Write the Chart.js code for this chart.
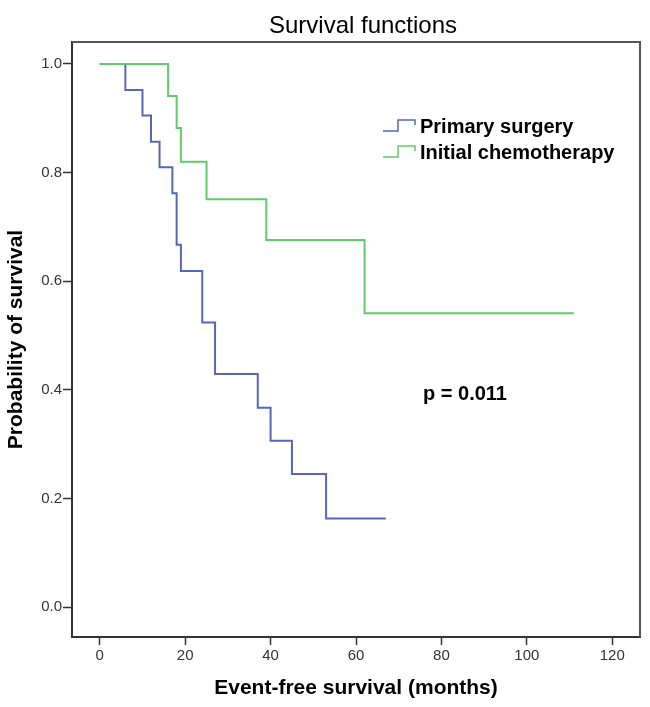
<!DOCTYPE html>
<html>
<head>
<meta charset="utf-8">
<title>Survival functions</title>
<script src="https://cdn.jsdelivr.net/npm/chart.js@4.4.1/dist/chart.umd.min.js"></script>
<style>
  html, body { margin: 0; padding: 0; background: #fff; }
  #wrap { width: 650px; height: 707px; }
</style>
</head>
<body>
<div id="wrap"><canvas id="kmChart" width="650" height="707"></canvas></div>
<script>
// Kaplan-Meier steps (months, survival)
var surgeryMonths = [0, 6, 10, 12, 14, 17, 18, 19, 24, 27, 37, 40, 45, 53, 67];
var surgerySurv = [1.0, 0.952, 0.905, 0.857, 0.810, 0.762, 0.667, 0.619, 0.524, 0.429, 0.367, 0.306, 0.245, 0.163, 0.163];

var chemoMonths = [0, 16, 18, 19, 25, 39, 62, 111];
var chemoSurv = [1.0, 0.941, 0.882, 0.820, 0.751, 0.676, 0.541, 0.541];

var seriesNames = ['Primary surgery', 'Initial chemotherapy'];
var xTicks = [0, 20, 40, 60, 80, 100, 120];
var yTicks = [0.0, 0.2, 0.4, 0.6, 0.8, 1.0];
var pValueText = 'p = 0.011';

var FONT = "'Liberation Sans', Arial, sans-serif";
var BLUE = '#5668b3';
var GREEN = '#5fcb6b';
var AXIS = '#333333';

function toPoints(xs, ys) {
    return xs.map(function (x, i) { return { x: x, y: ys[i] }; });
}

// frame, title, legend and p-value text (SPSS style, inside the plot)
var decorPlugin = {
    id: 'decor',
    afterDraw: function (chart) {
        var ctx = chart.ctx;
        var a = chart.chartArea;
        ctx.save();

        // top / right edges of the box
        ctx.strokeStyle = '#555555';
        ctx.lineWidth = 2;
        ctx.beginPath();
        ctx.moveTo(a.left, a.top);
        ctx.lineTo(a.right, a.top);
        ctx.lineTo(a.right, a.bottom);
        ctx.stroke();

        // title
        ctx.fillStyle = '#000';
        ctx.font = '24px ' + FONT;
        ctx.textAlign = 'center';
        ctx.textBaseline = 'alphabetic';
        ctx.fillText('Survival functions', 363, 33);

        // legend
        var colors = [BLUE, GREEN];
        var rows = [126, 152];
        ctx.font = 'bold 20px ' + FONT;
        ctx.textAlign = 'left';
        ctx.textBaseline = 'middle';
        for (var i = 0; i < seriesNames.length; i++) {
            var y = rows[i];
            ctx.strokeStyle = colors[i];
            ctx.lineWidth = 1.5;
            ctx.beginPath();
            ctx.moveTo(383, y + 5);
            ctx.lineTo(398, y + 5);
            ctx.lineTo(398, y - 6);
            ctx.lineTo(415, y - 6);
            ctx.lineTo(415, y - 1);
            ctx.stroke();
            ctx.fillStyle = '#000';
            ctx.fillText(seriesNames[i], 420, y + 1);
        }

        // p value
        ctx.font = 'bold 20px ' + FONT;
        ctx.textAlign = 'center';
        ctx.fillText(pValueText, 465, 394);

        ctx.restore();
    }
};

window.addEventListener('DOMContentLoaded', function () {
    var ctx = document.getElementById('kmChart').getContext('2d');

    new Chart(ctx, {
        type: 'line',
        data: {
            datasets: [
                {
                    label: seriesNames[0],
                    data: toPoints(surgeryMonths, surgerySurv),
                    borderColor: BLUE,
                    borderWidth: 2,
                    stepped: 'before',
                    pointRadius: 0,
                    fill: false,
                    order: 1
                },
                {
                    label: seriesNames[1],
                    data: toPoints(chemoMonths, chemoSurv),
                    borderColor: GREEN,
                    borderWidth: 2,
                    stepped: 'before',
                    pointRadius: 0,
                    fill: false,
                    order: 0
                }
            ]
        },
        options: {
            responsive: false,
            animation: false,
            layout: { padding: { top: 42, right: 10, left: 0, bottom: 0 } },
            plugins: {
                legend: { display: false },
                tooltip: { enabled: false },
                title: { display: false }
            },
            scales: {
                x: {
                    type: 'linear',
                    min: -6.5,
                    max: 126.5,
                    afterBuildTicks: function (s) {
                        s.ticks = xTicks.map(function (v) { return { value: v }; });
                    },
                    afterFit: function (s) { s.height = 70; },
                    ticks: {
                        font: { family: FONT, size: 15 },
                        color: AXIS,
                        padding: 2,
                        maxRotation: 0,
                        callback: function (v) { return String(v); }
                    },
                    grid: {
                        drawOnChartArea: false,
                        drawTicks: true,
                        tickLength: 8,
                        tickColor: AXIS,
                        tickWidth: 1.5
                    },
                    border: { color: AXIS, width: 2 },
                    title: {
                        display: true,
                        text: 'Event-free survival (months)',
                        color: '#000',
                        font: { family: FONT, size: 21, weight: 'bold' },
                        padding: { top: 0, bottom: 6 }
                    }
                },
                y: {
                    type: 'linear',
                    min: -0.0552,
                    max: 1.0405,
                    afterBuildTicks: function (s) {
                        s.ticks = yTicks.map(function (v) { return { value: v }; });
                    },
                    afterFit: function (s) { s.width = 72; },
                    ticks: {
                        font: { family: FONT, size: 15 },
                        color: AXIS,
                        padding: 1,
                        callback: function (v) { return Number(v).toFixed(1); }
                    },
                    grid: {
                        drawOnChartArea: false,
                        drawTicks: true,
                        tickLength: 9,
                        tickColor: AXIS,
                        tickWidth: 1.5
                    },
                    border: { color: AXIS, width: 2 },
                    title: {
                        display: true,
                        text: 'Probability of survival',
                        color: '#000',
                        font: { family: FONT, size: 21, weight: 'bold' },
                        padding: { top: 4, bottom: 0 }
                    }
                }
            }
        },
        plugins: [decorPlugin]
    });
});
</script>
</body>
</html>
